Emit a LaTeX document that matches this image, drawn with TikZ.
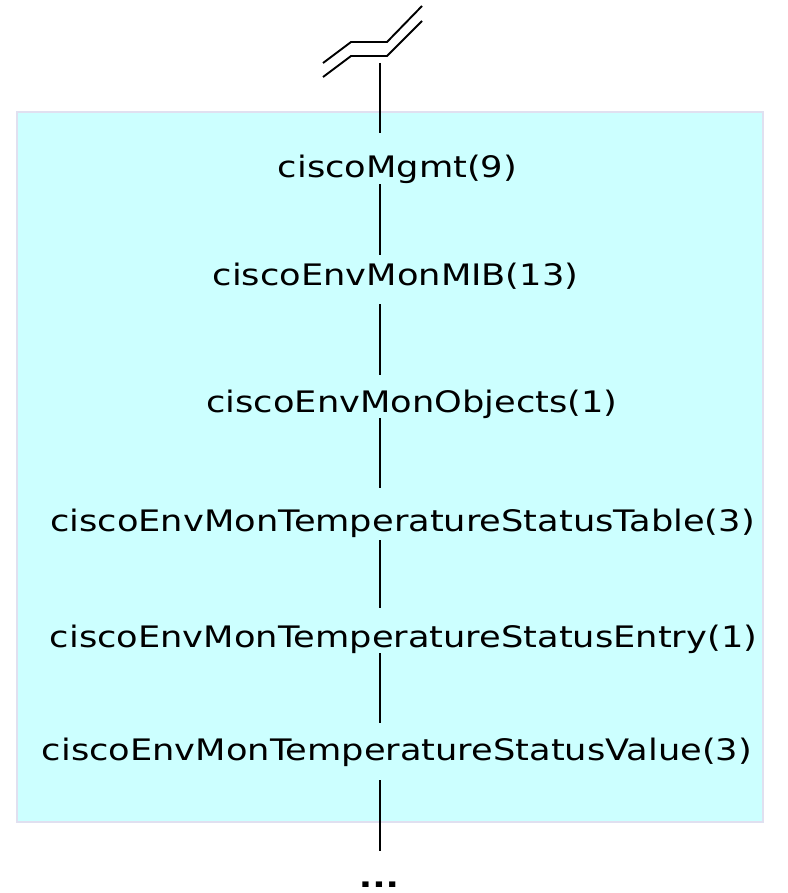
\documentclass[tikz,border=0pt]{standalone}
\usepackage{fontspec}
\setmainfont{DejaVu Sans}[FakeStretch=1.19]
\usetikzlibrary{calc}
\definecolor{subtree}{HTML}{CCFFFF}
\definecolor{subtreeedge}{HTML}{E0E0F0}

\begin{document}
\begin{tikzpicture}[x=1pt,y=-1pt,
  oid/.style={anchor=base, inner sep=0, text height=21.6pt, text depth=6pt, font=\fontsize{29.6}{34}\selectfont},
  branch/.style={black, line width=2.1pt},
  cut/.style={black, line width=1.9pt, line join=miter}]
\useasboundingbox (0,0) rectangle (787,893);
\draw[fill=subtree, draw=subtreeedge, line width=2pt] (17,112) rectangle (763,822);

% broken tree above
\draw[cut] (323,63) -- (351,42) -- (387,42) -- (422,6);
\draw[cut] (323,77) -- (351,56) -- (387,56) -- (422,21);
\coordinate (stem) at (380,63);

\node[oid] (mgmt) at (397.5,178) {ciscoMgmt(9)};
\node[oid] (envmib) at (395.5,285) {ciscoEnvMonMIB(13)};
\node[oid] (objects) at (412,412) {ciscoEnvMonObjects(1)};
\node[oid] (tbl) at (402.5,531) {ciscoEnvMonTemperatureStatusTable(3)};
\node[oid] (entry) at (403.5,647) {ciscoEnvMonTemperatureStatusEntry(1)};
\node[oid] (value) at (397,760) {ciscoEnvMonTemperatureStatusValue(3)};
\node[oid, text depth=0pt] (dots) at (379,887) {\bfseries ...};

\draw[branch, shorten >=23pt] (stem) -- (mgmt.north -| stem);
\draw[branch, shorten >=8pt] (mgmt.south -| stem) -- (envmib.north -| stem);
\draw[branch, shorten <=13pt, shorten >=15pt] (envmib.south -| stem) -- (objects.north -| stem);
\draw[branch, shorten >=21pt] (objects.south -| stem) -- (tbl.north -| stem);
\draw[branch, shorten <=3pt, shorten >=17pt] (tbl.south -| stem) -- (entry.north -| stem);
\draw[branch, shorten >=15pt] (entry.south -| stem) -- (value.north -| stem);
\draw[branch, shorten <=14pt, shorten >=14pt] (value.south -| stem) -- (dots.north -| stem);
\end{tikzpicture}
\end{document}
